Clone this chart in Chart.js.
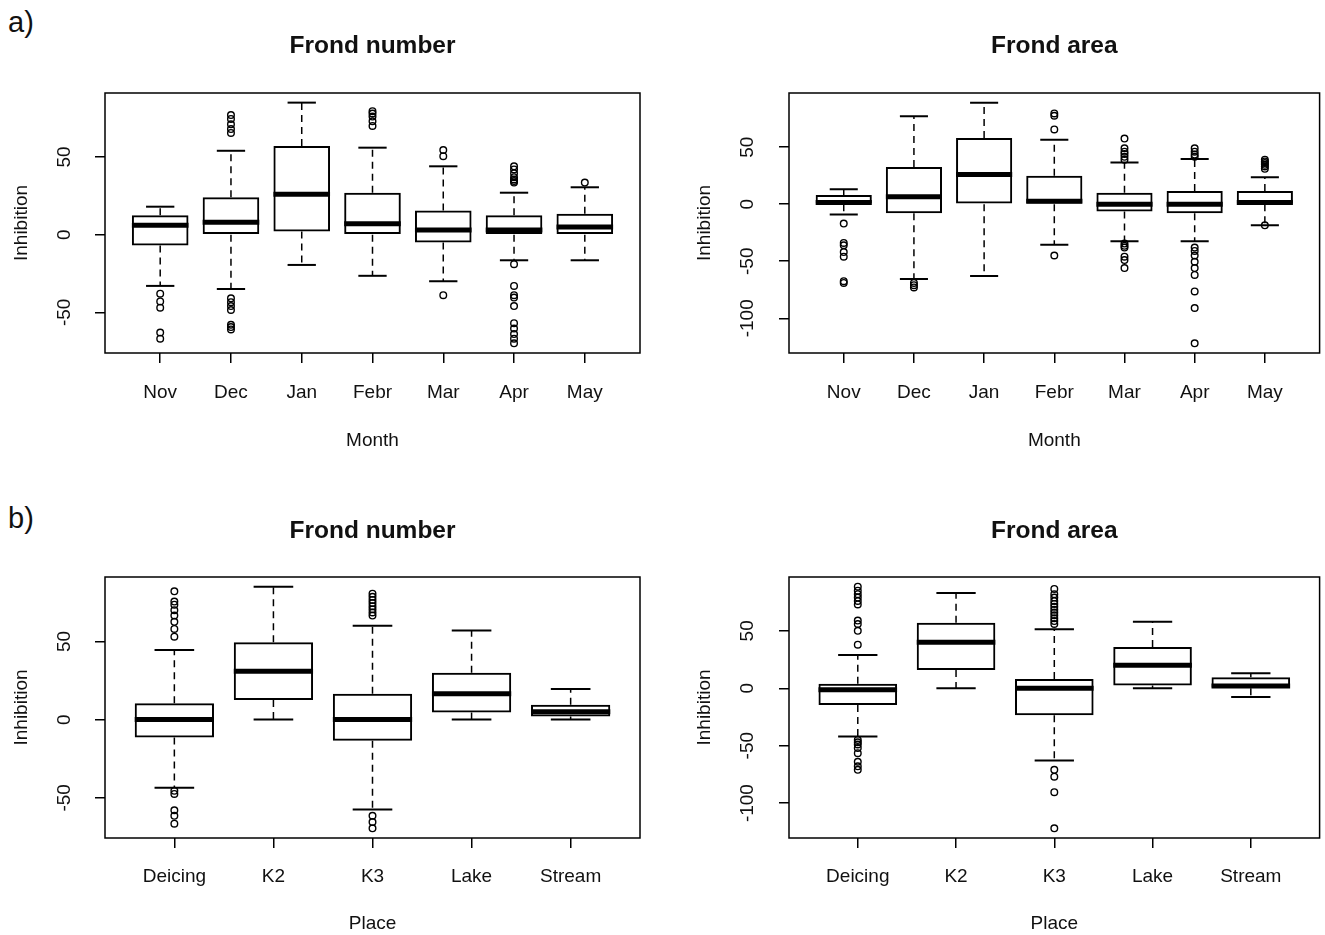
<!DOCTYPE html>
<html>
<head>
<meta charset="utf-8">
<script src="https://cdn.jsdelivr.net/npm/chart.js@4.4.1/dist/chart.umd.min.js"></script>
<style>
  html, body { margin: 0; padding: 0; background: #fff; overflow: hidden; }
  body { width: 1325px; height: 935px; position: relative; font-family: "Liberation Sans", Arial, sans-serif; }
  .panel { position: absolute; }
  .tag { position: absolute; left: 8px; font-size: 29px; color: #111; }
</style>
</head>
<body>
<div class="tag" style="top:6px">a)</div>
<div class="tag" style="top:502px">b)</div>
<canvas id="p1" class="panel" width="662" height="467" style="left:0;top:0"></canvas>
<canvas id="p2" class="panel" width="663" height="467" style="left:662px;top:0"></canvas>
<canvas id="p3" class="panel" width="662" height="468" style="left:0;top:467px"></canvas>
<canvas id="p4" class="panel" width="663" height="468" style="left:662px;top:467px"></canvas>
<script>
// categories
const months = ["Nov", "Dec", "Jan", "Febr", "Mar", "Apr", "May"];
const places = ["Deicing", "K2", "K3", "Lake", "Stream"];

// tick labels
const fnTicks = [-50, 0, 50];
const faTicks = [-100, -50, 0, 50];

// a) frond number by month
const fnMonthLo  = [-33, -35, -19.5, -26.5, -30, -16.5, -16.5];
const fnMonthQ1  = [-7, 0, 2, 0, -5, 0, 0];
const fnMonthMed = [6, 8, 26, 7, 3, 3, 5];
const fnMonthQ3  = [12.5, 24, 57, 27, 15.5, 12.5, 13.5];
const fnMonthHi  = [18, 54, 85, 56, 44, 27, 30.5];
const fnMonthOut = [
  [-38, -43, -47, -63, -67],
  [77, 74.5, 71, 68, 65.5, -41, -43.5, -46, -48.5, -58, -59.5, -61],
  [],
  [79.5, 78, 76, 73, 70],
  [54.5, 50.5, -39],
  [44, 42, 39.5, 37, 35.5, 34.5, 33.5, -19, -33, -39, -40.5, -46, -57, -60.5, -64, -67, -70],
  [33.5]
];

// a) frond area by month
const faMonthLo  = [-9, -65.5, -63, -35.5, -32.5, -32.5, -18.5];
const faMonthQ1  = [0, -8, 0, 0, -6.5, -8, 0];
const faMonthMed = [1.5, 6.5, 26, 2.5, 0, 0, 1.5];
const faMonthQ3  = [8, 32.5, 58, 25, 10, 11.5, 11.5];
const faMonthHi  = [13, 77, 89, 56.5, 36.5, 39.5, 23.5];
const faMonthOut = [
  [-17, -34, -36, -42, -46, -67.5, -69],
  [-69, -71, -73],
  [],
  [79.5, 77.5, 65.5, -45],
  [57.5, 49, 46, 44, 41.5, 39, -34.5, -36.5, -38, -46, -49, -56],
  [49, 46, 43.5, 41.5, -38, -41, -45, -50.5, -56, -62, -76.5, -91, -122],
  [39, 37.5, 36, 34.5, 33, 31, -18.5]
];

// b) frond number by place
const fnPlaceLo  = [-43.5, 0, -57.5, 0, 0];
const fnPlaceQ1  = [-11.5, 12.5, -13.5, 4.5, 2];
const fnPlaceMed = [0, 31, 0, 16.5, 5];
const fnPlaceQ3  = [10.5, 49.5, 16.5, 30, 9.5];
const fnPlaceHi  = [44.5, 85, 60, 57, 19.5];
const fnPlaceOut = [
  [82, 75.5, 73.5, 70, 66.5, 62.5, 58, 53, -45.5, -47.5, -58, -61.5, -66.5],
  [],
  [80.5, 78.5, 76.5, 74.5, 72.5, 70.5, 68.5, 66.5, -61.5, -65.5, -69.5],
  [],
  []
];

// b) frond area by place
const faPlaceLo  = [-42, 0, -63, 0, -7.5];
const faPlaceQ1  = [-14.5, 16, -23.5, 2.5, 0];
const faPlaceMed = [-1.2, 40, 0, 20, 2];
const faPlaceQ3  = [4, 57, 8, 36, 9.5];
const faPlaceHi  = [29, 83, 51.5, 58, 13];
const faPlaceOut = [
  [88.5, 85, 82, 79, 76, 73, 59, 56, 50, 38, -45, -47, -49, -52, -56.5, -64, -68, -71],
  [],
  [86.5, 82, 79, 76, 73.5, 71, 68.5, 66, 63.5, 61, 58.5, 56, -71, -77, -90.5, -122],
  [],
  []
];

Chart.defaults.font.family = "'Liberation Sans', Arial, sans-serif";
Chart.defaults.color = "#111";

const unitPx = (chart, u) => {
  const s = chart.scales.x;
  return Math.abs(s.getPixelForValue(u) - s.getPixelForValue(0));
};

const framePlugin = {
  id: "frame",
  afterDatasetsDraw(chart) {
    const { ctx, chartArea: a } = chart;
    ctx.save();
    ctx.strokeStyle = "#000";
    ctx.lineWidth = 1.5;
    ctx.strokeRect(a.left, a.top, a.right - a.left, a.bottom - a.top);
    ctx.restore();
  }
};

function boxChart(id, cats, lo, q1, med, q3, hi, out, ticks, title, xTitle, lay) {
  const pos = cats.map((c, i) => i + 1);
  const whiskers = [];
  pos.forEach((x, i) => {
    whiskers.push({ x, y: q3[i] }, { x, y: hi[i] }, { x, y: null });
    whiskers.push({ x, y: q1[i] }, { x, y: lo[i] }, { x, y: null });
  });
  const all = [].concat(lo, hi, ...out);
  const dMin = Math.min(...all), dMax = Math.max(...all);
  const ext = (dMax - dMin) * 0.04;
  const n = cats.length;

  new Chart(document.getElementById(id), {
    type: "bar",
    data: {
      datasets: [
        {
          type: "scatter",
          data: pos.map((x, i) => ({ x, y: med[i] })),
          pointStyle: "line",
          pointRadius: (c) => unitPx(c.chart, 0.4),
          borderColor: "#000",
          borderWidth: 5,
        },
        {
          type: "scatter",
          data: pos.flatMap((x, i) => [{ x, y: lo[i] }, { x, y: hi[i] }]),
          pointStyle: "line",
          pointRadius: (c) => unitPx(c.chart, 0.2),
          borderColor: "#000",
          borderWidth: 2,
        },
        {
          type: "scatter",
          data: pos.flatMap((x, i) => out[i].map((y) => ({ x, y }))),
          pointStyle: "circle",
          pointRadius: 3.3,
          borderWidth: 1.4,
          borderColor: "#000",
          backgroundColor: "rgba(0,0,0,0)",
        },
        {
          type: "line",
          data: whiskers,
          borderColor: "#000",
          borderWidth: 1.5,
          borderDash: [7, 5],
          pointRadius: 0,
          spanGaps: false,
          fill: false,
        },
        {
          type: "bar",
          data: pos.map((x, i) => ({ x, y: [q1[i], q3[i]] })),
          backgroundColor: "rgba(0,0,0,0)",
          borderColor: "#000",
          borderWidth: 2,
          borderSkipped: false,
          barPercentage: 0.8,
          categoryPercentage: 1,
        },
      ],
    },
    options: {
      responsive: false,
      animation: false,
      events: [],
      layout: { padding: { left: 0, right: lay.right, top: 0, bottom: 0 } },
      plugins: {
        legend: { display: false },
        tooltip: { enabled: false },
        title: {
          display: true,
          text: title,
          fullSize: false,
          color: "#111",
          font: { size: 24.5, weight: "bold" },
          padding: { top: lay.titleTop, bottom: lay.titleBottom },
        },
      },
      scales: {
        x: {
          type: "linear",
          offset: false,
          min: 0.5 - 0.04 * n,
          max: n + 0.5 + 0.04 * n,
          afterFit: (s) => { s.height = lay.xH; },
          afterBuildTicks: (s) => { s.ticks = pos.map((v) => ({ value: v })); },
          ticks: {
            callback: (v) => cats[v - 1],
            font: { size: 19 },
            padding: lay.xTickPad,
            maxRotation: 0,
            autoSkip: false,
          },
          grid: { offset: false, drawOnChartArea: false, color: "#000", lineWidth: 1.5, tickLength: 10 },
          border: { display: false },
          title: { display: true, text: xTitle, font: { size: 19 }, padding: { top: 0, bottom: lay.xTitlePad } },
        },
        y: {
          type: "linear",
          min: dMin - ext,
          max: dMax + ext,
          afterFit: (s) => { s.width = lay.yW; },
          afterBuildTicks: (s) => { s.ticks = ticks.map((v) => ({ value: v })); },
          ticks: {
            font: { size: 19 },
            minRotation: 90,
            maxRotation: 90,
            crossAlign: "center",
            padding: lay.yTickPad,
          },
          grid: { drawOnChartArea: false, color: "#000", lineWidth: 1.5, tickLength: 10 },
          border: { display: false },
          title: { display: true, text: "Inhibition", font: { size: 19 }, padding: { top: lay.yTitlePad, bottom: 0 } },
        },
      },
    },
    plugins: [framePlugin],
  });
}

const topLay = { right: 22, yW: 105, xH: 114, titleTop: 32, titleBottom: 31.6, xTickPad: 18.6, xTitlePad: 14.6, yTitlePad: 10.6, yTickPad: 16.3 };
const topLayR = Object.assign({}, topLay, { right: 3, yW: 127, yTitlePad: 31.6, yTickPad: 12 });
const botLay = Object.assign({}, topLay, { xH: 97, titleTop: 50, titleBottom: 30.6, xTickPad: 17.6, xTitlePad: 0 });
const botLayR = Object.assign({}, botLay, { right: 3, yW: 127, yTitlePad: 31.6, yTickPad: 12 });

boxChart("p1", months, fnMonthLo, fnMonthQ1, fnMonthMed, fnMonthQ3, fnMonthHi, fnMonthOut, fnTicks, "Frond number", "Month", topLay);
boxChart("p2", months, faMonthLo, faMonthQ1, faMonthMed, faMonthQ3, faMonthHi, faMonthOut, faTicks, "Frond area", "Month", topLayR);
boxChart("p3", places, fnPlaceLo, fnPlaceQ1, fnPlaceMed, fnPlaceQ3, fnPlaceHi, fnPlaceOut, fnTicks, "Frond number", "Place", botLay);
boxChart("p4", places, faPlaceLo, faPlaceQ1, faPlaceMed, faPlaceQ3, faPlaceHi, faPlaceOut, faTicks, "Frond area", "Place", botLayR);
</script>
</body>
</html>
